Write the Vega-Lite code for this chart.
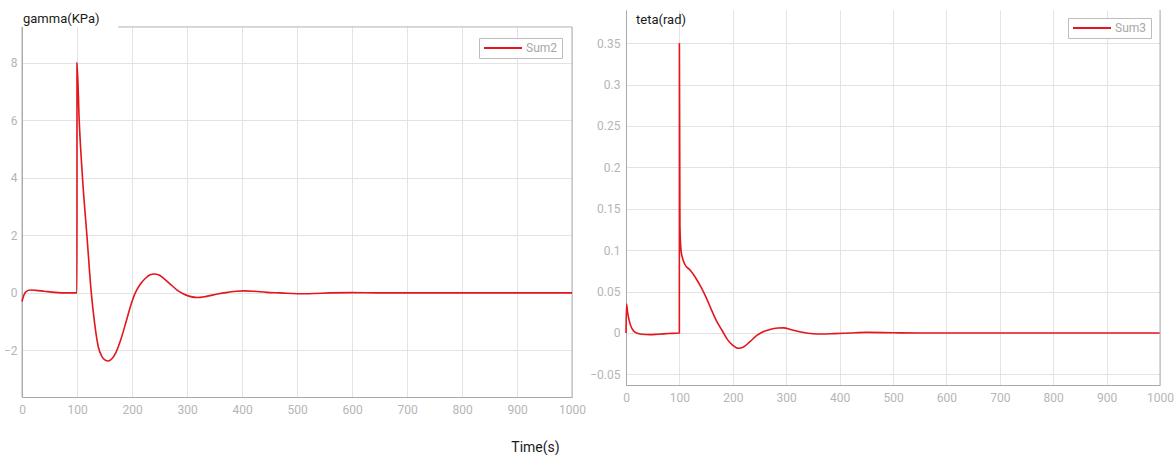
{
  "$schema": "https://vega.github.io/schema/vega-lite/v6.json",
  "background": "white",
  "padding": {"left": 2, "top": 4, "right": 0, "bottom": 0},
  "spacing": 3,
  "config": {
    "font": "Roboto",
    "axis": {"gridColor": "#e3e3e3", "domainColor": "#a8a8a8", "labelColor": "#b5b5b5", "labelFont": "Roboto", "labelFontSize": 12, "ticks": false, "labelFlush": false},
    "legend": {"strokeColor": "#bdbdbd", "fillColor": "white", "padding": 4, "labelColor": "#a8a8a8", "labelFontSize": 12, "labelFont": "Roboto", "symbolType": "stroke", "symbolSize": 1444, "symbolStrokeWidth": 2, "clipHeight": 12, "labelOffset": 3},
    "title": {"font": "Roboto", "fontSize": 13, "fontWeight": "normal", "color": "#1a1a1a", "anchor": "start", "frame": "group"}
  },
  "resolve": {"scale": {"color": "independent"}, "legend": {"color": "independent"}},
  "datasets": {
    "gamma": [
      {"t": 0, "v": -0.3, "s": "Sum2"}, {"t": 3, "v": -0.1, "s": "Sum2"}, {"t": 8, "v": 0.05, "s": "Sum2"}, {"t": 15, "v": 0.1, "s": "Sum2"},
      {"t": 25, "v": 0.09, "s": "Sum2"}, {"t": 40, "v": 0.06, "s": "Sum2"}, {"t": 60, "v": 0.02, "s": "Sum2"}, {"t": 80, "v": 0.0, "s": "Sum2"},
      {"t": 99.9, "v": 0.0, "s": "Sum2"}, {"t": 100, "v": 8.0, "s": "Sum2"}, {"t": 104, "v": 6.0, "s": "Sum2"}, {"t": 110, "v": 4.0, "s": "Sum2"},
      {"t": 118, "v": 2.0, "s": "Sum2"}, {"t": 126, "v": 0.0, "s": "Sum2"}, {"t": 132, "v": -1.05, "s": "Sum2"}, {"t": 139, "v": -1.9, "s": "Sum2"},
      {"t": 145, "v": -2.2, "s": "Sum2"}, {"t": 150, "v": -2.32, "s": "Sum2"}, {"t": 157, "v": -2.37, "s": "Sum2"}, {"t": 163, "v": -2.3, "s": "Sum2"},
      {"t": 170, "v": -2.1, "s": "Sum2"}, {"t": 180, "v": -1.6, "s": "Sum2"}, {"t": 190, "v": -0.95, "s": "Sum2"}, {"t": 200, "v": -0.3, "s": "Sum2"},
      {"t": 206, "v": 0.0, "s": "Sum2"}, {"t": 215, "v": 0.3, "s": "Sum2"}, {"t": 225, "v": 0.52, "s": "Sum2"}, {"t": 233, "v": 0.63, "s": "Sum2"},
      {"t": 240, "v": 0.66, "s": "Sum2"}, {"t": 248, "v": 0.63, "s": "Sum2"}, {"t": 258, "v": 0.5, "s": "Sum2"}, {"t": 270, "v": 0.3, "s": "Sum2"},
      {"t": 282, "v": 0.1, "s": "Sum2"}, {"t": 292, "v": -0.02, "s": "Sum2"}, {"t": 305, "v": -0.12, "s": "Sum2"}, {"t": 319, "v": -0.16, "s": "Sum2"},
      {"t": 335, "v": -0.12, "s": "Sum2"}, {"t": 355, "v": -0.04, "s": "Sum2"}, {"t": 374, "v": 0.02, "s": "Sum2"}, {"t": 390, "v": 0.06, "s": "Sum2"},
      {"t": 404, "v": 0.07, "s": "Sum2"}, {"t": 420, "v": 0.06, "s": "Sum2"}, {"t": 445, "v": 0.02, "s": "Sum2"}, {"t": 470, "v": 0.0, "s": "Sum2"},
      {"t": 500, "v": -0.03, "s": "Sum2"}, {"t": 530, "v": -0.02, "s": "Sum2"}, {"t": 560, "v": 0.0, "s": "Sum2"}, {"t": 600, "v": 0.01, "s": "Sum2"},
      {"t": 650, "v": 0.0, "s": "Sum2"}, {"t": 700, "v": 0.0, "s": "Sum2"}, {"t": 800, "v": 0.0, "s": "Sum2"}, {"t": 900, "v": 0.0, "s": "Sum2"},
      {"t": 1000, "v": 0.0, "s": "Sum2"}
    ],
    "teta": [
      {"t": 0, "v": 0.0, "s": "Sum3"}, {"t": 1, "v": 0.035, "s": "Sum3"}, {"t": 3, "v": 0.025, "s": "Sum3"}, {"t": 6, "v": 0.015, "s": "Sum3"},
      {"t": 10, "v": 0.007, "s": "Sum3"}, {"t": 15, "v": 0.002, "s": "Sum3"}, {"t": 20, "v": 0.0, "s": "Sum3"}, {"t": 30, "v": -0.0015, "s": "Sum3"},
      {"t": 45, "v": -0.002, "s": "Sum3"}, {"t": 60, "v": -0.0015, "s": "Sum3"}, {"t": 80, "v": -0.0007, "s": "Sum3"}, {"t": 99.9, "v": 0.0, "s": "Sum3"},
      {"t": 100, "v": 0.35, "s": "Sum3"}, {"t": 101, "v": 0.13, "s": "Sum3"}, {"t": 103, "v": 0.1, "s": "Sum3"}, {"t": 106, "v": 0.09, "s": "Sum3"},
      {"t": 110, "v": 0.083, "s": "Sum3"}, {"t": 120, "v": 0.076, "s": "Sum3"}, {"t": 130, "v": 0.067, "s": "Sum3"}, {"t": 140, "v": 0.056, "s": "Sum3"},
      {"t": 150, "v": 0.043, "s": "Sum3"}, {"t": 160, "v": 0.028, "s": "Sum3"}, {"t": 170, "v": 0.014, "s": "Sum3"}, {"t": 180, "v": 0.003, "s": "Sum3"},
      {"t": 190, "v": -0.008, "s": "Sum3"}, {"t": 200, "v": -0.015, "s": "Sum3"}, {"t": 210, "v": -0.0185, "s": "Sum3"}, {"t": 220, "v": -0.017, "s": "Sum3"},
      {"t": 232, "v": -0.0105, "s": "Sum3"}, {"t": 245, "v": -0.003, "s": "Sum3"}, {"t": 255, "v": 0.001, "s": "Sum3"}, {"t": 268, "v": 0.004, "s": "Sum3"},
      {"t": 285, "v": 0.006, "s": "Sum3"}, {"t": 295, "v": 0.0062, "s": "Sum3"}, {"t": 310, "v": 0.004, "s": "Sum3"}, {"t": 330, "v": 0.0008, "s": "Sum3"},
      {"t": 350, "v": -0.001, "s": "Sum3"}, {"t": 365, "v": -0.0013, "s": "Sum3"}, {"t": 390, "v": -0.0008, "s": "Sum3"}, {"t": 420, "v": 0.0, "s": "Sum3"},
      {"t": 450, "v": 0.0007, "s": "Sum3"}, {"t": 500, "v": 0.0003, "s": "Sum3"}, {"t": 550, "v": 0.0, "s": "Sum3"}, {"t": 700, "v": 0.0, "s": "Sum3"},
      {"t": 850, "v": 0.0, "s": "Sum3"}, {"t": 1000, "v": 0.0, "s": "Sum3"}
    ]
  },
  "hconcat": [
    {
      "width": 550,
      "height": 387,
      "view": {"stroke": "#b0b0b0"},
      "title": {"text": "gamma(KPa)", "offset": -21, "dx": 1},
      "layer": [
        {
          "data": {"values": [{"a": -5, "b": 1005, "lo": 9.25, "hi": 10.0}]},
          "mark": {"type": "rect", "color": "white", "opacity": 1},
          "encoding": {
            "x": {"field": "a", "type": "quantitative"},
            "x2": {"field": "b"},
            "y": {"field": "lo", "type": "quantitative"},
            "y2": {"field": "hi"}
          }
        },
        {
          "data": {"values": [{"a": 175, "b": 1000, "lo": 9.25}]},
          "mark": {"type": "rule", "color": "#b0b0b0", "strokeWidth": 1},
          "encoding": {
            "x": {"field": "a", "type": "quantitative"},
            "x2": {"field": "b"},
            "y": {"field": "lo", "type": "quantitative"}
          }
        },
        {
          "data": {"values": [{"a": 1000, "lo": -3.62, "hi": 9.25}]},
          "mark": {"type": "rule", "color": "#b0b0b0", "strokeWidth": 1},
          "encoding": {
            "x": {"field": "a", "type": "quantitative"},
            "y": {"field": "lo", "type": "quantitative"},
            "y2": {"field": "hi"}
          }
        },
        {
          "data": {"values": [{"a": 0, "lo": -3.62, "hi": 9.25}]},
          "mark": {"type": "rule", "color": "#b0b0b0", "strokeWidth": 1},
          "encoding": {
            "x": {"field": "a", "type": "quantitative"},
            "y": {"field": "lo", "type": "quantitative"},
            "y2": {"field": "hi"}
          }
        },
        {
          "data": {"name": "gamma"},
          "mark": {"type": "line", "interpolate": "monotone", "strokeWidth": 1.6},
          "encoding": {
            "x": {"field": "t", "type": "quantitative", "scale": {"domain": [0, 1000], "nice": false},
              "axis": {"values": [0, 100, 200, 300, 400, 500, 600, 700, 800, 900, 1000], "format": "d", "labelPadding": 7, "title": "Time(s)", "titleX": 513, "titleY": 50, "titleAlign": "center", "titleBaseline": "middle", "titleFontSize": 14, "titleFontWeight": "normal", "titleColor": "#1a1a1a", "titleFont": "Roboto"}},
            "y": {"field": "v", "type": "quantitative", "scale": {"domain": [-3.62, 9.84], "nice": false, "zero": false},
              "axis": {"values": [-2, 0, 2, 4, 6, 8], "labelPadding": 5, "title": null}},
            "color": {"field": "s", "type": "nominal", "scale": {"domain": ["Sum2"], "range": ["#e3161d"]},
              "legend": {"title": null, "orient": "none", "legendX": 457, "legendY": 28}}
          }
        }
      ]
    },
    {
      "width": 534,
      "height": 375,
      "view": {"stroke": null},
      "title": {"text": "teta(rad)", "offset": -17, "dx": 10},
      "layer": [
        {
          "data": {"name": "teta"},
          "mark": {"type": "line", "interpolate": "monotone", "strokeWidth": 1.6},
          "encoding": {
            "x": {"field": "t", "type": "quantitative", "scale": {"domain": [0, 1000], "nice": false},
              "axis": {"values": [0, 100, 200, 300, 400, 500, 600, 700, 800, 900, 1000], "format": "d", "labelPadding": 7, "title": null, "domain": true}},
            "y": {"field": "v", "type": "quantitative", "scale": {"domain": [-0.0628, 0.39], "nice": false, "zero": false},
              "axis": {"values": [-0.05, 0, 0.05, 0.1, 0.15, 0.2, 0.25, 0.3, 0.35], "format": ".2~f", "labelPadding": 6, "title": null, "domain": true}},
            "color": {"field": "s", "type": "nominal", "scale": {"domain": ["Sum3"], "range": ["#e3161d"]},
              "legend": {"title": null, "orient": "none", "legendX": 442, "legendY": 8}}
          }
        },
        {
          "data": {"values": [{"edge": 1000}]},
          "mark": {"type": "rule", "color": "#b0b0b0", "strokeWidth": 1},
          "encoding": {"x": {"field": "edge", "type": "quantitative"}}
        }
      ]
    }
  ]
}
